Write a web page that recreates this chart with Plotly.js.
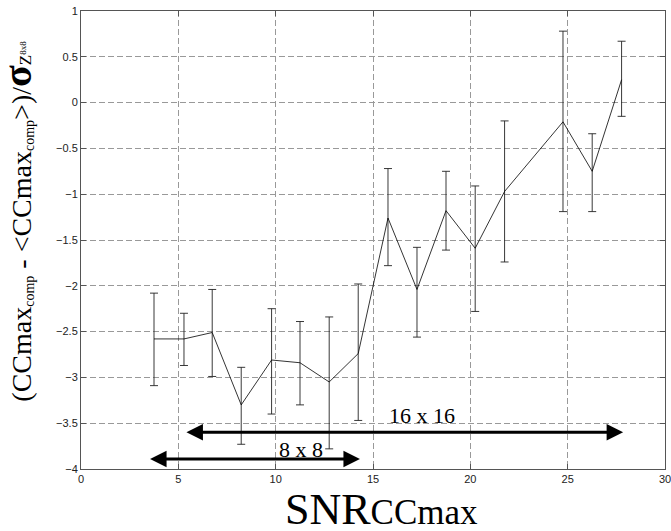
<!DOCTYPE html>
<html>
<head>
<meta charset="utf-8">
<script src="https://cdn.plot.ly/plotly-3.0.1.min.js"></script>
<style>html,body{margin:0;padding:0;background:#fff;}#chart{width:671px;height:531px;}</style>
</head>
<body>
<div id="chart"></div>
<script>
// Data
var snr = [3.75, 5.29, 6.74, 8.23, 9.79, 11.25, 12.75, 14.24, 15.77, 17.26, 18.75, 20.25, 21.76, 24.76, 26.26, 27.77];
var zval = [-2.58, -2.58, -2.51, -3.30, -2.81, -2.84, -3.05, -2.74, -1.26, -2.04, -1.18, -1.59, -0.97, -0.21, -0.75, 0.25];
var errTop = [-2.08, -2.30, -2.04, -2.89, -2.25, -2.39, -2.34, -1.98, -0.72, -1.58, -0.75, -0.91, -0.20, 0.78, -0.34, 0.67];
var errBottom = [-3.09, -2.87, -2.99, -3.73, -3.40, -3.30, -3.78, -3.47, -1.78, -2.56, -1.61, -2.28, -1.74, -1.19, -1.19, -0.15];

// Range arrows and their labels
var rangeLabels = ['16 x 16', '8 x 8'];
var rangeStart = [5.34, 3.47];
var rangeEnd = [27.85, 14.33];
var rangeLevel = [-3.60, -3.89];
var labelX = [17.54, 11.29];
var labelY = [-3.42, -3.79];

var plus = zval.map(function(v, i){ return errTop[i] - v; });
var minus = zval.map(function(v, i){ return v - errBottom[i]; });

var serif = 'Liberation Serif, Times New Roman, serif';
var sp = function(size, txt, shift) {
  var st = 'font-size:' + size + 'px';
  if (shift) st += ';baseline-shift:' + shift + 'px';
  return '<span style="' + st + '">' + txt + '</span>';
};

var trace = {
  x: snr, y: zval, type: 'scatter', mode: 'lines',
  line: {color: '#000', width: 0.8},
  error_y: {type: 'data', symmetric: false, array: plus, arrayminus: minus,
            color: '#222', thickness: 0.9, width: 4},
  hoverinfo: 'skip', showlegend: false
};

var annotations = [];
for (var i = 0; i < rangeLabels.length; i++) {
  annotations.push({
    x: rangeEnd[i], y: rangeLevel[i], ax: rangeStart[i], ay: rangeLevel[i],
    xref: 'x', yref: 'y', axref: 'x', ayref: 'y', text: '',
    showarrow: true, arrowhead: 2, startarrowhead: 2, arrowside: 'end+start',
    arrowsize: 1.1, startarrowsize: 1.1, arrowwidth: 3, arrowcolor: '#000'
  });
  annotations.push({
    x: labelX[i], y: labelY[i], xref: 'x', yref: 'y', text: rangeLabels[i],
    showarrow: false, font: {family: serif, size: 22, color: '#000'}
  });
}

var xTitle = 'SNR' + sp(35, 'CCmax');
var yTitle = sp(28, '(CCmax') + sp(14, 'comp', -3) + sp(28, ' - &lt;CCmax') + sp(14, 'comp', -3) +
             sp(28, '&gt;)/') + sp(40, '<b>σ</b>') + sp(17, 'Z') + sp(9, '8x8', 5);

annotations.push({
  text: xTitle, xref: 'paper', yref: 'paper', x: 0.5137, y: -0.089,
  xanchor: 'center', yanchor: 'middle', showarrow: false,
  font: {family: serif, size: 44, color: '#000'}
});
annotations.push({
  text: yTitle, xref: 'paper', yref: 'paper', x: -0.108, y: 0.542, textangle: -90,
  xanchor: 'center', yanchor: 'middle', showarrow: false,
  font: {family: serif, size: 28, color: '#000'}
});

var layout = {
  width: 671, height: 531,
  margin: {l: 81, r: 6, t: 11, b: 62},
  paper_bgcolor: '#fff', plot_bgcolor: '#fff',
  font: {family: 'Liberation Sans, Arial, sans-serif', size: 11, color: '#222'},
  xaxis: {
    range: [0, 30], tickvals: [0, 5, 10, 15, 20, 25, 30], ticklabeloverflow: 'allow',
    showgrid: true, gridcolor: '#999', griddash: '6px,3px', gridwidth: 1,
    zeroline: false, showline: true, linecolor: '#555', linewidth: 1, mirror: 'ticks',
    ticks: 'inside', ticklen: 5, tickcolor: '#555'
  },
  yaxis: {
    range: [-4, 1], tickvals: [-4, -3.5, -3, -2.5, -2, -1.5, -1, -0.5, 0, 0.5, 1],
    showgrid: true, gridcolor: '#999', griddash: '6px,3px', gridwidth: 1,
    zeroline: false, showline: true, linecolor: '#555', linewidth: 1, mirror: 'ticks',
    ticks: 'inside', ticklen: 5, tickcolor: '#555'
  },
  annotations: annotations
};

Plotly.newPlot('chart', [trace], layout, {displayModeBar: false, staticPlot: true});
</script>
</body>
</html>
